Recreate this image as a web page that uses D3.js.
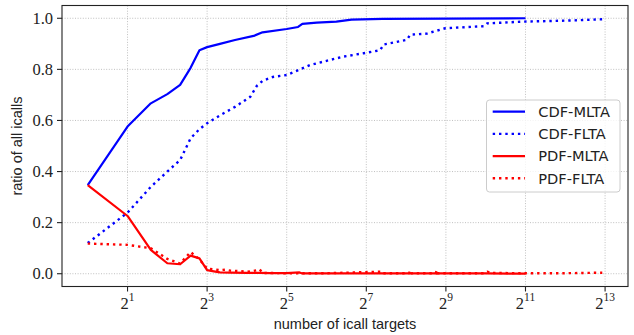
<!DOCTYPE html>
<html>
<head>
<meta charset="utf-8">
<script src="https://cdn.jsdelivr.net/npm/d3@7"></script>
<style>
  body { margin: 0; background: #fff; }
  svg { display: block; }
</style>
</head>
<body>
<div id="chart"></div>
<script>
// [number of icall targets, ratio]
var cdfMlta = [[1,0.347],[2,0.576],[3,0.667],[4,0.703],[5,0.739],[6,0.806],[7,0.875],[8,0.887],
  [10,0.900],[13,0.915],[18,0.931],[21,0.945],[32,0.958],[39,0.966],[42,0.978],[54,0.983],
  [76,0.987],[99,0.995],[170,0.998],[512,0.999],[2048,1.0]];
var cdfFlta = [[1,0.12],[2,0.239],[3,0.34],[4,0.40],[5,0.445],[6,0.53],[7,0.566],[8,0.589],
  [10,0.62],[13,0.653],[17,0.693],[19,0.735],[21,0.755],[25,0.77],[32,0.778],[38,0.794],
  [42,0.804],[48,0.817],[72,0.84],[86,0.85],[122,0.863],[163,0.875],[173,0.897],[260,0.916],
  [275,0.936],[368,0.94],[413,0.948],[507,0.961],[989,0.969],[1049,0.98],[1988,0.987],
  [3000,0.989],[5000,0.992],[7800,0.996]];
var pdfMlta = [[1,0.347],[2,0.226],[3,0.093],[4,0.041],[5,0.037],[6,0.071],[7,0.06],[8,0.014],
  [9,0.009],[10,0.005],[12,0.004],[16,0.003],[20,0.003],[24,0.002],[32,0.002],[40,0.005],
  [42,0.001],[64,0.001],[128,0.001],[256,0.001],[512,0.001],[1024,0.001],[2048,0.0005]];
var pdfFlta = [[1,0.118],[2,0.113],[3,0.10],[4,0.058],[5,0.04],[6,0.085],[7,0.056],[8,0.02],
  [9,0.017],[10,0.014],[11,0.016],[12,0.012],[14,0.01],[16,0.008],[18,0.011],[20,0.017],
  [21,0.003],[32,0.002],[64,0.002],[167,0.008],[170,0.002],[270,0.002],[275,0.014],[280,0.002],
  [430,0.002],[436,0.014],[440,0.002],[1000,0.002],[1060,0.008],[1100,0.003],[2048,0.002],
  [4096,0.002],[7800,0.004]];

var xTickExps = [1, 3, 5, 7, 9, 11, 13];
var yTicks = [0.0, 0.2, 0.4, 0.6, 0.8, 1.0];

var series = [
  { name: 'CDF-MLTA', data: cdfMlta, color: '#0000ff', dotted: false },
  { name: 'CDF-FLTA', data: cdfFlta, color: '#0000ff', dotted: true },
  { name: 'PDF-MLTA', data: pdfMlta, color: '#ff0000', dotted: false },
  { name: 'PDF-FLTA', data: pdfFlta, color: '#ff0000', dotted: true }
];

var w = 634, h = 335;
var pLeft = 62, pRight = 628, pTop = 5.5, pBottom = 286.5;

var svg = d3.select('#chart').append('svg')
    .attr('width', w)
    .attr('height', h);

// 5% margins in log space, like matplotlib
var lo = 0, hi = Math.log2(7800);
var pad = (hi - lo) * 0.05;
var x = d3.scaleLog().base(2)
    .domain([Math.pow(2, lo - pad), Math.pow(2, hi + pad)])
    .range([pLeft, pRight]);
var y = d3.scaleLinear()
    .domain([-0.05, 1.05])
    .range([pBottom, pTop]);

// grid
var grid = svg.append('g')
    .attr('stroke', '#b0b0b0')
    .attr('stroke-width', 0.8)
    .attr('stroke-dasharray', '1,1.6');
grid.selectAll('.gx')
    .data(xTickExps)
    .enter()
    .append('line')
    .attr('x1', function(d) { return x(Math.pow(2, d)); })
    .attr('x2', function(d) { return x(Math.pow(2, d)); })
    .attr('y1', pTop)
    .attr('y2', pBottom);
grid.selectAll('.gy')
    .data(yTicks)
    .enter()
    .append('line')
    .attr('x1', pLeft)
    .attr('x2', pRight)
    .attr('y1', function(d) { return y(d); })
    .attr('y2', function(d) { return y(d); });

// curves
var line = d3.line()
    .x(function(d) { return x(d[0]); })
    .y(function(d) { return y(d[1]); });

svg.selectAll('.series')
    .data(series)
    .enter()
    .append('path')
    .attr('d', function(d) { return line(d.data); })
    .attr('fill', 'none')
    .attr('stroke', function(d) { return d.color; })
    .attr('stroke-width', function(d) { return d.dotted ? 2.4 : 2.2; })
    .attr('stroke-dasharray', function(d) { return d.dotted ? '2.4,3.9' : null; })
    .attr('stroke-linejoin', 'round');

// spines
svg.append('rect')
    .attr('x', pLeft)
    .attr('y', pTop)
    .attr('width', pRight - pLeft)
    .attr('height', pBottom - pTop)
    .attr('fill', 'none')
    .attr('stroke', '#222')
    .attr('stroke-width', 1.1);

// x axis ticks and labels
var xAxis = svg.append('g');
xAxis.selectAll('.tx')
    .data(xTickExps)
    .enter()
    .append('line')
    .attr('x1', function(d) { return x(Math.pow(2, d)); })
    .attr('x2', function(d) { return x(Math.pow(2, d)); })
    .attr('y1', pBottom)
    .attr('y2', pBottom + 5)
    .attr('stroke', '#222')
    .attr('stroke-width', 1.1);
var xl = xAxis.selectAll('.lx')
    .data(xTickExps)
    .enter()
    .append('text')
    .attr('x', function(d) { return x(Math.pow(2, d)); })
    .attr('y', 308.5)
    .attr('text-anchor', 'middle')
    .attr('font-family', '"Liberation Serif", serif')
    .attr('fill', '#222');
xl.append('tspan')
    .attr('font-size', '16.5px')
    .text('2');
xl.append('tspan')
    .attr('font-size', '11.5px')
    .attr('dy', -7.5)
    .text(function(d) { return d; });

// y axis ticks and labels
var yAxis = svg.append('g');
yAxis.selectAll('.ty')
    .data(yTicks)
    .enter()
    .append('line')
    .attr('x1', pLeft - 5)
    .attr('x2', pLeft)
    .attr('y1', function(d) { return y(d); })
    .attr('y2', function(d) { return y(d); })
    .attr('stroke', '#222')
    .attr('stroke-width', 1.1);
yAxis.selectAll('.ly')
    .data(yTicks)
    .enter()
    .append('text')
    .attr('x', 53)
    .attr('y', function(d) { return y(d) + 5.6; })
    .attr('text-anchor', 'end')
    .attr('font-family', '"Liberation Serif", serif')
    .attr('font-size', '16.5px')
    .attr('fill', '#222')
    .text(function(d) { return d.toFixed(1); });

// axis titles
svg.append('text')
    .attr('x', (pLeft + pRight) / 2)
    .attr('y', 329)
    .attr('text-anchor', 'middle')
    .attr('font-family', '"Liberation Sans", sans-serif')
    .attr('font-size', '14.5px')
    .attr('fill', '#222')
    .text('number of icall targets');
svg.append('text')
    .attr('transform', 'translate(22,' + ((pTop + pBottom) / 2) + ') rotate(-90)')
    .attr('text-anchor', 'middle')
    .attr('font-family', '"Liberation Sans", sans-serif')
    .attr('font-size', '14.5px')
    .attr('fill', '#222')
    .text('ratio of all icalls');

// legend
var lg = svg.append('g');
lg.append('rect')
    .attr('x', 486.5)
    .attr('y', 100)
    .attr('width', 133.5)
    .attr('height', 92)
    .attr('rx', 3)
    .attr('fill', 'rgba(255,255,255,0.8)')
    .attr('stroke', '#cccccc')
    .attr('stroke-width', 1);
var rows = lg.selectAll('.row')
    .data(series)
    .enter()
    .append('g')
    .attr('transform', function(d, i) { return 'translate(0,' + (111.7 + i * 22.2) + ')'; });
rows.append('line')
    .attr('x1', 492.7)
    .attr('x2', 525)
    .attr('y1', 0)
    .attr('y2', 0)
    .attr('stroke', function(d) { return d.color; })
    .attr('stroke-width', function(d) { return d.dotted ? 2.4 : 2.2; })
    .attr('stroke-dasharray', function(d) { return d.dotted ? '2.4,3.9' : null; });
rows.append('text')
    .attr('x', 538.3)
    .attr('y', 5.3)
    .attr('font-family', '"DejaVu Sans", sans-serif')
    .attr('font-size', '14.6px')
    .attr('fill', '#222')
    .text(function(d) { return d.name; });
</script>
</body>
</html>
